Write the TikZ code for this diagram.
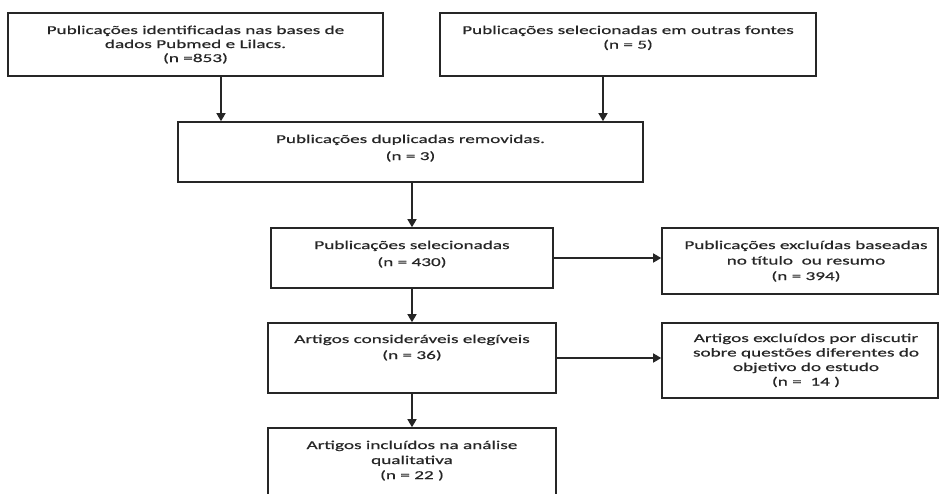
\documentclass[tikz,border=0pt]{standalone}
\usepackage{fontspec}
\setmainfont{Carlito}[FakeStretch=1.6, FakeBold=0.6]
\usetikzlibrary{arrows.meta}
\begin{document}
\begin{tikzpicture}[x=1pt,y=-1pt,
  box/.style={draw=black!85, line width=1.6pt, inner sep=0pt, rectangle},
  txt/.style={anchor=base, inner sep=0pt, font=\fontsize{12}{14}\selectfont, text=black!85},
  arr/.style={draw=black!85, line width=1.5pt, -{Triangle[length=8pt,width=9pt]}}]
\useasboundingbox (0,0) rectangle (939,493);
\clip (0,0) rectangle (939,493);
% boxes
\node[box, minimum width=375pt, minimum height=63pt] (b1) at (195.5,44.5) {};
\node[box, minimum width=376pt, minimum height=63pt] (b2) at (628,44.5) {};
\node[box, minimum width=465pt, minimum height=60pt] (b3) at (410.5,152) {};
\node[box, minimum width=282pt, minimum height=60pt] (b4) at (412,258) {};
\node[box, minimum width=276pt, minimum height=66pt] (b5) at (800,261) {};
\node[box, minimum width=288pt, minimum height=70pt] (b6) at (412,358) {};
\node[box, minimum width=276pt, minimum height=75pt] (b7) at (800,360.5) {};
\node[box, minimum width=288pt, minimum height=90pt] (b8) at (412,473) {};
% texts
\foreach [count=\i] \l in {Publicações identificadas nas bases de, dados Pubmed e Lilacs., (n =853)}
  \node[txt] (t1-\i) at (195.5,{34+14*(\i-1)}) {\l};
\foreach [count=\i] \l in {Publicações selecionadas em outras fontes, (n = 5)}
  \node[txt] (t2-\i) at (628,{34+14.5*(\i-1)}) {\l};
\foreach [count=\i] \l in {Publicações duplicadas removidas., (n = 3)}
  \node[txt] (t3-\i) at (410.5,{143+17*(\i-1)}) {\l};
\foreach [count=\i] \l in {Publicações selecionadas, (n = 430)}
  \node[txt] (t4-\i) at (412,{249+17*(\i-1)}) {\l};
\foreach [count=\i] \l in {Publicações excluídas baseadas, no título~ ou resumo, (n = 394)}
  \node[txt] (t5-\i) at (806,{249+15.5*(\i-1)}) {\l};
\foreach [count=\i] \l in {Artigos consideráveis elegíveis, (n = 36)}
  \node[txt] (t6-\i) at (412,{343+16*(\i-1)}) {\l};
\foreach [count=\i] \l in {Artigos excluídos por discutir, sobre questões diferentes do, objetivo do estudo, (n =~ 14 )}
  \node[txt] (t7-\i) at (806,{342+14.5*(\i-1)}) {\l};
\foreach [count=\i] \l in {Artigos incluídos na análise, qualitativa, (n = 22 )}
  \node[txt] (t8-\i) at (412,{449+15*(\i-1)}) {\l};
% connectors
\draw[arr] ([xshift=25.5pt]b1.south) -- ([xshift=25.5pt]b1.south |- b3.north);
\draw[arr] ([xshift=-25pt]b2.south) -- ([xshift=-25pt]b2.south |- b3.north);
\draw[arr] (b4.north |- b3.south) -- (b4.north);
\draw[arr] (b4.east) -- (b4.east -| b5.west);
\draw[arr] (b4.south) -- (b6.north);
\draw[arr] (b6.east) -- (b6.east -| b7.west);
\draw[arr] (b6.south) -- (b8.north);
\end{tikzpicture}
\end{document}
